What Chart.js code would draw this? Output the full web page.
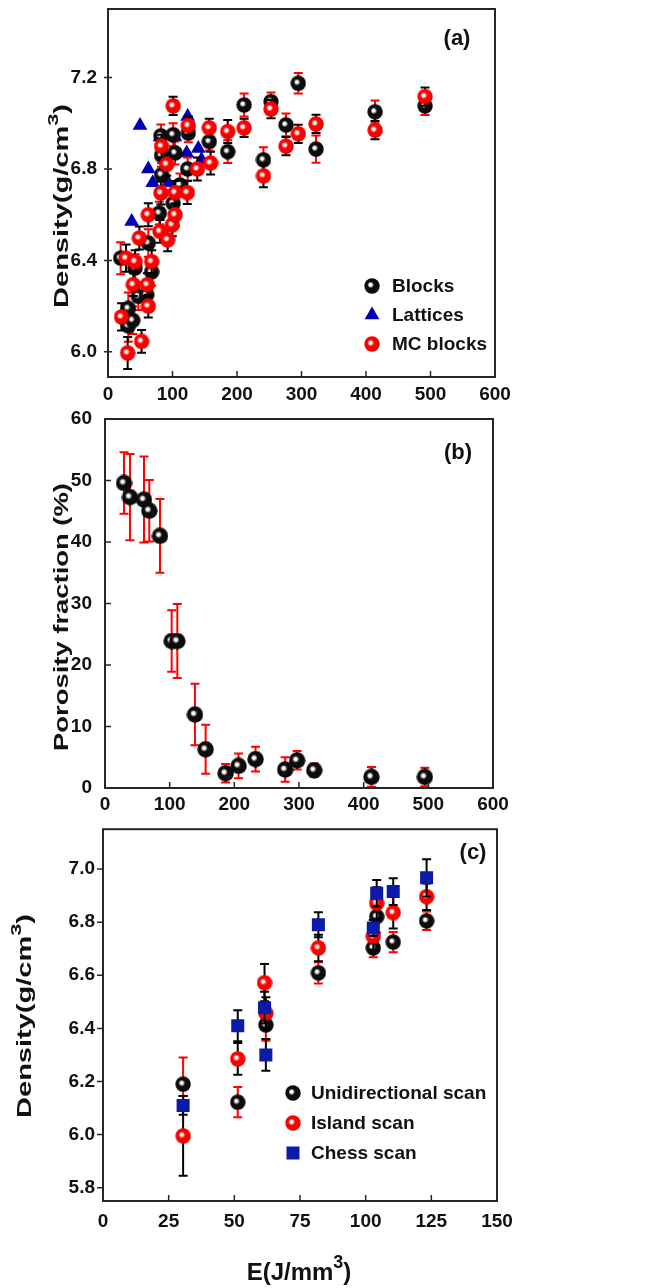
<!DOCTYPE html>
<html>
<head>
<meta charset="utf-8">
<title>Density and porosity vs. energy density</title>
<script src="https://cdn.jsdelivr.net/npm/chart.js@4.4.1/dist/chart.umd.min.js"></script>
<style>
  html, body { margin: 0; padding: 0; background: #fff; }
  body { width: 666px; height: 1288px; position: relative; overflow: hidden; }
  canvas { position: absolute; left: 0; }
</style>
</head>
<body>
<canvas id="chartA" width="666" height="410" style="top:0"></canvas>
<canvas id="chartB" width="666" height="410" style="top:410px"></canvas>
<canvas id="chartC" width="666" height="468" style="top:820px"></canvas>
<script>
// (a) density vs energy density
const blocksE   = [19.6, 31.5, 31.5, 38.3, 42, 47, 60, 62.5, 67.7, 79.6, 101, 83, 83, 82, 101, 104, 111.6, 123.5, 124.5, 157, 185.6, 211, 241, 252.7, 276, 295, 322.5, 414, 491.5];
const blocksRho = [6.41, 6.19, 6.114, 6.138, 6.367, 6.243, 6.25, 6.476, 6.35, 6.607, 6.65, 6.775, 6.86, 6.945, 6.95, 6.87, 6.73, 6.80, 6.957, 6.92, 6.876, 7.08, 6.84, 7.095, 6.993, 7.175, 6.887, 7.05, 7.076];
const blocksErr = [0.07, 0.07, 0.07, 0.06, 0.06, 0.06, 0.06, 0.06, 0.06, 0.05, 0.05, 0.05, 0.05, 0.05, 0.05, 0.05, 0.05, 0.05, 0.04, 0.04, 0.05, 0.05, 0.055, 0.04, 0.05, 0.045, 0.06, 0.05, 0.04];

const latticeE   = [36.7, 49.6, 62.5, 69.3, 80.6, 93.5, 103.9, 122, 123.5, 140, 145];
const latticeRho = [6.57, 6.99, 6.80, 6.74, 6.94, 6.74, 6.94, 6.87, 7.03, 6.89, 6.84];

const mcE   = [21, 28, 30.5, 39.3, 42, 48.6, 52, 61, 62.5, 62.5, 67.7, 80.6, 82, 83, 91, 92.5, 99.7, 101, 104, 104, 123, 124.5, 138.5, 157, 159, 185.6, 211, 241, 252.7, 276, 295, 322.5, 414, 491.5];
const mcRho = [6.153, 6.41, 5.995, 6.294, 6.395, 6.498, 6.046, 6.294, 6.20, 6.60, 6.395, 6.527, 6.695, 6.90, 6.82, 6.49, 6.556, 7.076, 6.60, 6.697, 6.697, 6.99, 6.80, 6.98, 6.826, 6.964, 6.98, 6.77, 7.062, 6.90, 6.954, 6.997, 6.97, 7.117];
const mcErr = [0.06, 0.06, 0.07, 0.05, 0.05, 0.05, 0.05, 0.05, 0.05, 0.05, 0.05, 0.05, 0.05, 0.05, 0.05, 0.05, 0.05, 0.04, 0.05, 0.05, 0.05, 0.04, 0.05, 0.04, 0.05, 0.05, 0.04, 0.05, 0.04, 0.04, 0.04, 0.04, 0.04, 0.04];

// (b) porosity of the blocks
const porE   = [29.4, 38.6, 60.3, 68.5, 85, 103.1, 111.8, 139.1, 155.6, 186.5, 206.5, 232.8, 278.6, 297.1, 323.5, 412, 494.6];
const porPct = [49.6, 47.3, 46.9, 45.1, 41.0, 23.9, 23.9, 11.95, 6.3, 2.4, 3.6, 4.7, 3.0, 4.5, 2.9, 1.8, 1.8];
const porErr = [5, 7, 7, 5, 6, 5, 6, 5, 4, 1.5, 2, 2, 2, 1.5, 1.1, 1.6, 1.5];

// (c) scan strategies
const uniE   = [30.5, 51.3, 62, 82, 102.9, 104.2, 110.5, 123.2];
const uniRho = [6.19, 6.122, 6.413, 6.609, 6.703, 6.821, 6.725, 6.805];
const uniErr = [0.10, 0.057, 0.06, 0.04, 0.035, 0.06, 0.038, 0.035];

const islandE   = [30.5, 51.3, 61.5, 62, 82, 102.9, 104.2, 110.5, 123.2];
const islandRho = [5.995, 6.285, 6.572, 6.457, 6.703, 6.746, 6.871, 6.836, 6.896];
const islandErr = [0.15, 0.06, 0.07, 0.06, 0.05, 0.05, 0.06, 0.06, 0.05];

const chessE   = [30.5, 51.3, 61.5, 62, 82, 102.9, 104.2, 110.5, 123.2];
const chessRho = [6.11, 6.41, 6.478, 6.30, 6.79, 6.778, 6.909, 6.915, 6.967];
const chessErr = [0.035, 0.058, 0.06, 0.06, 0.047, 0.03, 0.05, 0.05, 0.07];

// tick values
const xTicks600 = [0, 100, 200, 300, 400, 500, 600];
const xTicks150 = [0, 25, 50, 75, 100, 125, 150];
const yTicksA = [6.0, 6.4, 6.8, 7.2];
const yTicksB = [0, 10, 20, 30, 40, 50, 60];
const yTicksC = [5.8, 6.0, 6.2, 6.4, 6.6, 6.8, 7.0];

const SANS = '"Liberation Sans", Arial, sans-serif';

// shaded ball used as a marker
function sphere(base, edge, d) {
    const c = document.createElement('canvas');
    c.width = c.height = d;
    const g = c.getContext('2d');
    const r = d / 2;
    const grad = g.createRadialGradient(d * 0.4, d * 0.42, 0, d * 0.45, d * 0.45, r * 1.05);
    grad.addColorStop(0, '#ffffff');
    grad.addColorStop(0.16, '#ffffff');
    grad.addColorStop(0.4, base);
    grad.addColorStop(0.85, base);
    grad.addColorStop(1, edge);
    g.fillStyle = grad;
    g.beginPath();
    g.arc(r, r, r - 0.3, 0, Math.PI * 2);
    g.fill();
    return c;
}

const blackBall = sphere('#0c0c0c', '#000000', 16);
const redBall = sphere('#ff0000', '#b80000', 16);
const blackBallB = sphere('#0c0c0c', '#000000', 17);

function series(label, xs, ys, errs, errColor, style, order) {
    return {
        label: label,
        order: order,
        data: xs.map((x, i) => ({ x: x, y: ys[i] })),
        errors: errs,
        errorColor: errColor,
        pointStyle: style.pointStyle,
        pointRadius: style.radius,
        backgroundColor: style.color || '#000',
        borderWidth: 0,
        showLine: false
    };
}

// vertical error bars with caps, painted under each dataset's markers
const errorBars = {
    id: 'errorBars',
    beforeDatasetDraw(chart, args) {
        const ds = chart.data.datasets[args.index];
        if (!ds.errors) return;
        const ys = chart.scales.y;
        const ctx = chart.ctx;
        ctx.save();
        ctx.strokeStyle = ds.errorColor;
        ctx.lineWidth = 2;
        args.meta.data.forEach((pt, i) => {
            const v = ds.data[i].y;
            const e = ds.errors[i];
            const top = ys.getPixelForValue(v + e);
            const bot = ys.getPixelForValue(v - e);
            ctx.beginPath();
            ctx.moveTo(pt.x, top); ctx.lineTo(pt.x, bot);
            ctx.moveTo(pt.x - 4.5, top); ctx.lineTo(pt.x + 4.5, top);
            ctx.moveTo(pt.x - 4.5, bot); ctx.lineTo(pt.x + 4.5, bot);
            ctx.stroke();
        });
        ctx.restore();
    }
};

// text with a raised part, centred on the current origin
function drawRich(ctx, parts, size, stretch) {
    const base = `bold ${size}px ${SANS}`;
    const sup = `bold ${Math.round(size * 0.75)}px ${SANS}`;
    let w = 0;
    parts.forEach(([t, s]) => { ctx.font = s ? sup : base; w += ctx.measureText(t).width; });
    ctx.scale(stretch, 1);
    ctx.textBaseline = 'middle';
    ctx.textAlign = 'left';
    let x = -w / 2;
    parts.forEach(([t, s]) => {
        ctx.font = s ? sup : base;
        ctx.fillText(t, x, s ? -size * 0.42 : 0);
        x += ctx.measureText(t).width;
    });
}

// frame, tick marks, axis titles, panel tag and legend
const decor = {
    id: 'decor',
    afterDraw(chart, args, o) {
        const ctx = chart.ctx;
        const a = chart.chartArea;
        const xs = chart.scales.x, ys = chart.scales.y;
        ctx.save();
        ctx.fillStyle = '#111';
        ctx.strokeStyle = '#262626';
        ctx.lineWidth = 2;
        ctx.strokeRect(a.left, a.top, a.right - a.left, a.bottom - a.top);

        ctx.lineWidth = 1.5;
        ctx.beginPath();
        xs.ticks.forEach(t => {
            const px = xs.getPixelForValue(t.value);
            if (px <= a.left + 1 || px >= a.right - 1) return;
            ctx.moveTo(px, a.bottom);
            ctx.lineTo(px, a.bottom - 6);
        });
        ys.ticks.forEach(t => {
            const py = ys.getPixelForValue(t.value);
            if (py <= a.top + 1 || py >= a.bottom - 1) return;
            ctx.moveTo(a.left + o.yTick[0], py);
            ctx.lineTo(a.left + o.yTick[1], py);
        });
        ctx.stroke();

        if (o.yTitle) {
            ctx.save();
            ctx.translate(o.yTitle.x, o.yTitle.y);
            ctx.rotate(-Math.PI / 2);
            drawRich(ctx, o.yTitle.parts, o.yTitle.size, o.yTitle.stretch);
            ctx.restore();
        }
        if (o.xTitle) {
            ctx.save();
            ctx.translate(o.xTitle.x, o.xTitle.y);
            drawRich(ctx, o.xTitle.parts, o.xTitle.size, 1);
            ctx.restore();
        }

        ctx.font = `bold 22px ${SANS}`;
        ctx.textAlign = 'center';
        ctx.textBaseline = 'middle';
        ctx.fillText(o.tag.text, o.tag.x, o.tag.y);

        if (o.legend) {
            const L = o.legend;
            ctx.font = `bold 19px ${SANS}`;
            ctx.textAlign = 'left';
            L.items.forEach((idx, k) => {
                const ds = chart.data.datasets[idx];
                const y = L.y + k * L.dy;
                ctx.fillStyle = ds.backgroundColor;
                Chart.helpers.drawPoint(ctx, { pointStyle: ds.pointStyle, radius: ds.pointRadius, rotation: 0, borderWidth: 0 }, L.x, y);
                ctx.fillStyle = '#111';
                ctx.fillText(ds.label, L.textX, y + 1);
            });
        }
        ctx.restore();
    }
};

function scales(xMin, xMax, xTicks, yMin, yMax, yTicks, yDigits, lay) {
    const tickFont = { family: SANS, size: 19, weight: 'bold' };
    return {
        x: {
            type: 'linear', min: xMin, max: xMax,
            grid: { display: false, drawTicks: false },
            border: { display: false },
            ticks: {
                autoSkip: false, maxRotation: 0, padding: lay.xPad, color: '#111',
                font: tickFont,
                callback: v => String(v)
            },
            afterBuildTicks: s => { s.ticks = xTicks.map(v => ({ value: v })); },
            afterFit: s => { s.height = lay.xHeight; s.paddingLeft = 0; s.paddingRight = 0; }
        },
        y: {
            type: 'linear', min: yMin, max: yMax,
            grid: { display: false, drawTicks: false },
            border: { display: false },
            ticks: {
                autoSkip: false, padding: lay.yPad, color: '#111',
                font: tickFont,
                callback: v => v.toFixed(yDigits)
            },
            afterBuildTicks: s => { s.ticks = yTicks.map(v => ({ value: v })); },
            afterFit: s => { s.width = lay.yWidth; s.paddingTop = 0; s.paddingBottom = 0; }
        }
    };
}

function makeChart(id, datasets, sc, pad, decorOpts) {
    return new Chart(document.getElementById(id), {
        type: 'scatter',
        data: { datasets: datasets },
        options: {
            responsive: false,
            animation: false,
            events: [],
            layout: { padding: pad },
            scales: sc,
            plugins: {
                legend: { display: false },
                tooltip: { enabled: false },
                decor: decorOpts
            }
        },
        plugins: [errorBars, decor]
    });
}

const densityTitle = [['Density(g/cm', false], ['3', true], [')', false]];

// (a)
makeChart('chartA', [
    series('Blocks', blocksE, blocksRho, blocksErr, '#ff0000', { pointStyle: blackBall, radius: 8 }, 1),
    series('Lattices', latticeE, latticeRho, null, null, { pointStyle: 'triangle', radius: 8.5, color: '#0000b4' }, 2),
    series('MC blocks', mcE, mcRho, mcErr, '#000000', { pointStyle: redBall, radius: 8 }, 0)
], scales(0, 600, xTicks600, 5.89, 7.5, yTicksA, 1, { xPad: 6, xHeight: 33, yPad: 11, yWidth: 108 }),
{ top: 9, left: 0, right: 171, bottom: 0 },
{
    yTick: [-4, 4],
    yTitle: { parts: densityTitle, x: 62, y: 206, size: 20, stretch: 1.45 },
    tag: { text: '(a)', x: 457, y: 39 },
    legend: { x: 372, textX: 392, y: 286, dy: 29, items: [0, 1, 2] }
});

// (b)
makeChart('chartB', [
    series('Blocks', porE, porPct, porErr, '#ff0000', { pointStyle: blackBallB, radius: 8.5 }, 0)
], scales(0, 600, xTicks600, 0, 60, yTicksB, 0, { xPad: 5, xHeight: 32, yPad: 13, yWidth: 105 }),
{ top: 9, left: 0, right: 173, bottom: 0 },
{
    yTick: [0, 6],
    yTitle: { parts: [['Porosity fraction (%)', false]], x: 62, y: 207, size: 20, stretch: 1.37 },
    tag: { text: '(b)', x: 458, y: 43 }
});

// (c)
makeChart('chartC', [
    series('Unidirectional scan', uniE, uniRho, uniErr, '#ff0000', { pointStyle: blackBall, radius: 8 }, 2),
    series('Island scan', islandE, islandRho, islandErr, '#000000', { pointStyle: redBall, radius: 8 }, 1),
    series('Chess scan', chessE, chessRho, chessErr, '#000000', { pointStyle: 'rect', radius: 9.2, color: '#0b1aa8' }, 0)
], scales(0, 150, xTicks150, 5.75, 7.15, yTicksC, 1, { xPad: 9, xHeight: 87, yPad: 8, yWidth: 103 }),
{ top: 7, left: 0, right: 169, bottom: 0 },
{
    yTick: [-6, 0],
    yTitle: { parts: densityTitle, x: 25, y: 196, size: 20, stretch: 1.45 },
    xTitle: { parts: [['E(J/mm', false], ['3', true], [')', false]], x: 299, y: 453, size: 24 },
    tag: { text: '(c)', x: 473, y: 33 },
    legend: { x: 293, textX: 311, y: 273, dy: 30, items: [0, 1, 2] }
});
</script>
</body>
</html>
